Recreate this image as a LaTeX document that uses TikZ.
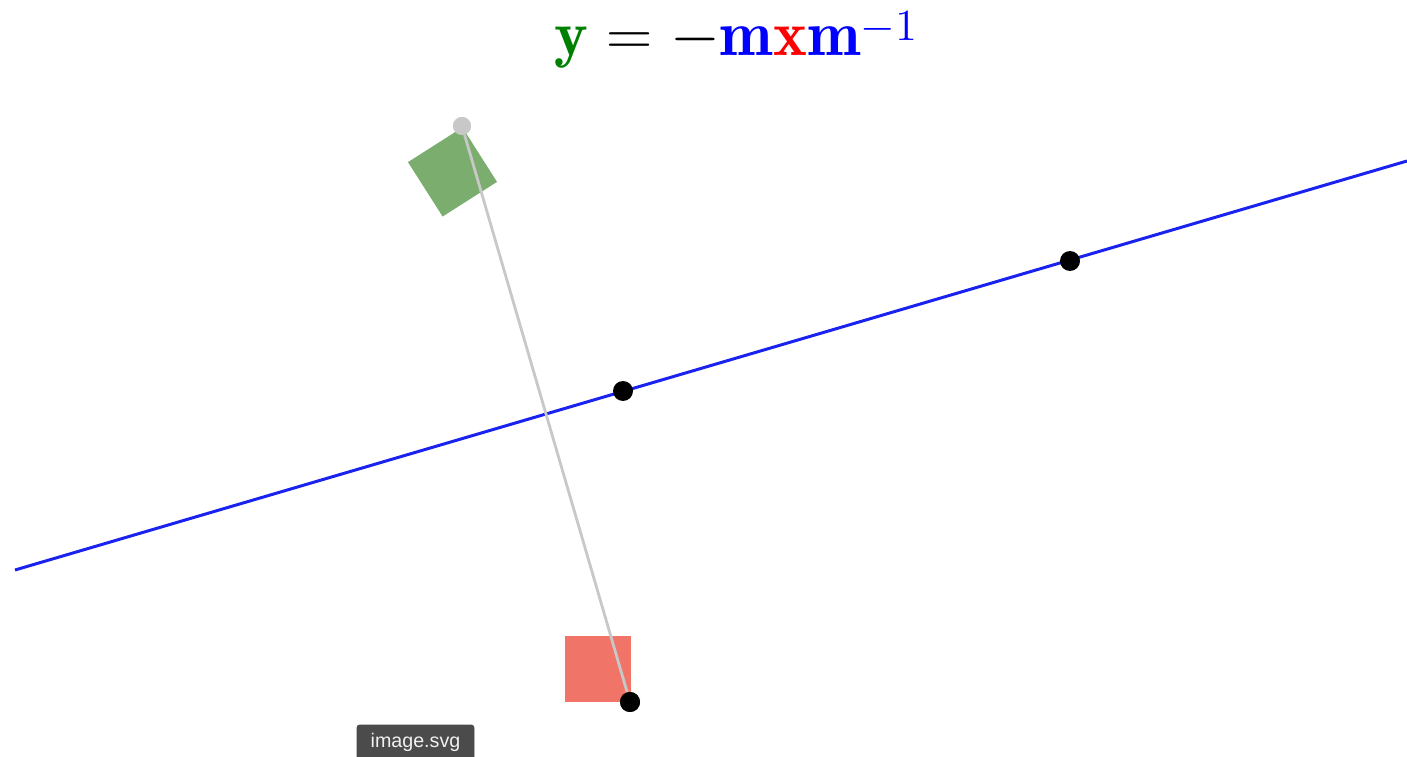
\documentclass[tikz,border=0pt]{standalone}
\usepackage{amsmath, amssymb}
\usepackage{fontspec}
\usepackage{tikz}
\usetikzlibrary{positioning}
\newfontfamily\tipfont{Liberation Sans}
\definecolor{lineblue}{HTML}{1A22F0}
\definecolor{squaregreen}{HTML}{7BAD6F}
\definecolor{squarered}{HTML}{F07468}
\definecolor{handlegray}{HTML}{C8C8C8}
\definecolor{tipgray}{HTML}{4B4B4B}
\definecolor{webgreen}{HTML}{008000}

\begin{document}
\begin{tikzpicture}[x=0.02cm, y=-0.02cm,
    dot/.style={circle, fill=black, inner sep=0pt, minimum size=0.4cm},
    handle/.style={circle, fill=handlegray, inner sep=0pt, minimum size=0.36cm},
    square/.style={rectangle, inner sep=0pt, minimum size=#1}]
    % Fix the page to the reference size
    \useasboundingbox (0,0) rectangle (1407,757);

    % Title formula
    \node[anchor=base west, inner sep=0pt] (title) at (554,56)
      {\scalebox{1.76}{\huge$\color{webgreen}\mathbf{y}\color{black} = -\color{blue}\mathbf{m}\color{red}\mathbf{x}\color{blue}\mathbf{m}^{\raisebox{-2.6pt}{$\scriptstyle -1$}}$}};

    % Draw the two squares
    \node[square=1.29cm, fill=squaregreen, rotate=32.5] (sqy) at (452.5,172) {};
    \node[square=1.32cm, fill=squarered] (sqx) at (598,669) {};

    % Draw the mirror line through its two points
    \coordinate (lstart) at (15,570);
    \coordinate (lend) at (1407,161);
    \draw[lineblue, line width=1.7pt] (lstart) -- (lend);

    % Points on the line and the handles
    \node[handle] (hy) at (462,126) {};
    \node[dot] (hx) at (630,702) {};
    \draw[handlegray, line width=1.6pt] (hy) -- (hx);
    \node[handle] at (hy) {};
    \foreach \p/\q in {623/391, 1070/261} \node[dot] (m\p) at (\p,\q) {};
    \node[dot] at (hx) {};

    % Tooltip
    \draw[tipgray, fill=tipgray, rounded corners=1.5pt] (357,725) rectangle (474,770);
    \node[text=white!94!black, font=\tipfont\fontsize{11.2}{13}\selectfont] (tip) at (415.5,742) {image.svg};
\end{tikzpicture}
\end{document}
